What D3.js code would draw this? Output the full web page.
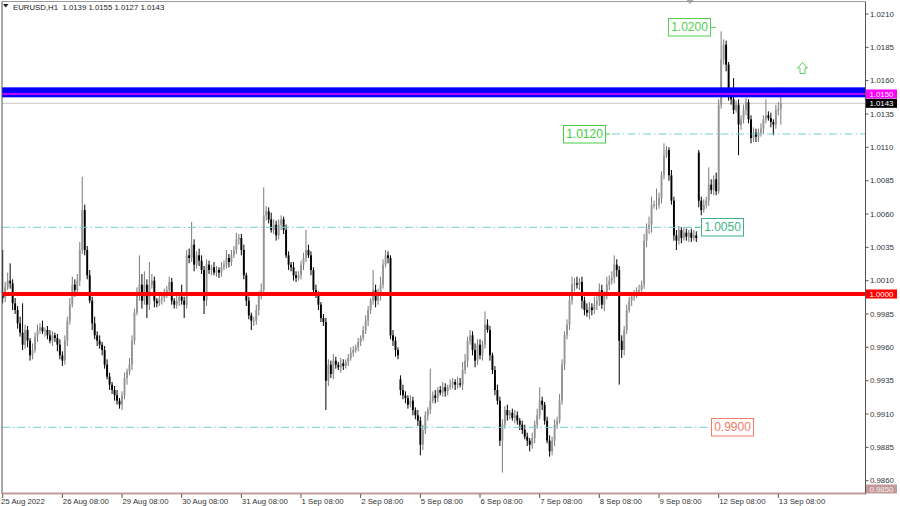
<!DOCTYPE html>
<html><head><meta charset="utf-8">
<script src="https://cdn.jsdelivr.net/npm/d3@7"></script>
<style>
body{margin:0;background:#fff}
svg{display:block}
text{font-family:"Liberation Sans",Arial,sans-serif}
</style>
</head><body>
<svg id="c" width="900" height="506"></svg>
<script>
// ---------- DATA ----------
const symbol = "EURUSD,H1";
const headerOHLC = ["1.0139", "1.0155", "1.0127", "1.0143"];

// hourly closes, in pips relative to 1.0000
const closes = [
  -3,5,10,8,-7,-12,-22,-29,-38,-27,-35,-46,-42,-32,-27,-25,-28,-27,-31,-35,-31,-33,-38,-46,
  -50,-35,-20,-8,7,3,10,33,63,33,14,-5,-22,-31,-35,-38,-42,-53,-62,-68,-72,-76,-80,-83,
  -76,-63,-58,-53,-35,-14,-1,7,-5,7,-8,7,10,-5,-7,-4,-3,-1,3,9,-5,-8,-5,-2,
  -5,-8,29,27,37,22,29,25,18,-5,22,18,20,16,18,16,20,22,27,24,29,33,41,42,
  33,14,-5,-16,-20,-20,-12,-1,3,59,62,56,48,52,44,52,56,48,29,22,20,14,12,14,
  22,27,33,29,18,3,-1,-8,-18,-21,-65,-53,-60,-50,-53,-55,-52,-54,-51,-48,-44,-42,-40,-36,
  -33,-27,-20,-12,-5,3,-5,-1,7,22,29,27,-31,-35,-42,-46,-72,-76,-78,-83,-80,-87,-91,-95,
  -113,-102,-91,-87,-80,-76,-78,-72,-74,-70,-73,-70,-68,-66,-68,-67,-68,-57,-50,-35,-31,-42,-50,-38,
  -46,-38,-23,-27,-46,-57,-72,-80,-110,-98,-87,-91,-89,-93,-91,-95,-98,-102,-107,-110,-113,-108,-98,-91,
  -80,-83,-95,-110,-118,-110,-98,-95,-80,-53,-31,-23,-5,7,8,7,9,-5,-12,-14,-10,-12,-8,-5,
  3,-8,-1,7,10,12,22,18,-35,-42,-27,-12,-5,-2,-1,2,3,7,40,49,52,67,67,67,
  72,89,104,108,89,70,44,40,48,42,46,43,46,42,44,42,
  70,63,67,70,82,78,86,77,142,176,187,172,148,146,138,142,127,131,138,144,131,117,121,118,
  121,124,131,134,132,129,127,138,139,143
];
// upper wick length above body (pips)
const wickUp = [
  34,4,6,13,3,4,3,5,22,4,3,2,5,3,4,3,5,2,3,4,3,2,3,4,
  3,4,3,5,6,4,5,6,25,4,3,4,3,5,3,4,2,3,4,3,2,3,4,2,
  3,4,2,5,4,3,6,22,8,10,4,17,5,3,2,4,3,5,3,4,3,2,4,3,
  9,3,4,5,17,4,3,5,4,3,4,3,2,4,3,2,4,3,6,3,4,3,5,3,
  3,4,2,3,2,3,4,3,5,21,4,3,5,4,3,4,3,2,4,3,2,4,3,3,
  3,4,15,4,3,2,4,3,2,3,3,4,3,5,3,2,4,3,2,3,4,3,2,3,
  2,3,4,3,2,15,4,5,6,4,4,3,2,4,3,2,3,4,3,2,4,3,2,4,
  3,4,3,2,24,3,4,2,3,4,3,2,4,3,2,5,4,6,5,3,4,3,5,4,
  4,3,10,4,3,2,3,4,3,4,3,4,2,3,4,3,2,3,4,3,2,4,3,5,
  10,3,2,3,4,3,4,3,5,4,3,4,5,6,4,5,3,4,3,5,4,3,6,5,
  5,4,3,6,4,5,7,4,3,4,3,4,3,2,4,3,4,3,5,4,6,6,3,12,
  4,3,9,3,2,4,3,4,3,2,4,3,2,3,4,3,
  2,3,4,3,13,4,3,5,4,21,4,3,2,4,16,3,4,3,4,3,2,3,4,3,
  3,4,3,12,3,4,2,4,5,12
];
// lower wick length below body (pips)
const wickDown = [
  4,3,2,4,5,3,4,3,4,3,5,4,3,2,4,3,2,4,3,2,4,3,5,3,
  4,3,4,3,2,5,3,4,3,4,3,2,5,3,4,3,4,3,2,4,3,4,3,3,
  4,3,5,3,4,3,2,4,6,3,10,4,3,5,3,2,4,3,2,4,3,3,3,4,
  3,10,3,4,3,5,3,4,3,10,4,3,4,2,3,4,3,2,3,4,3,2,3,4,
  4,3,4,3,7,4,3,4,3,2,4,3,2,3,4,3,4,3,2,4,3,4,3,2,
  3,4,3,2,4,3,2,4,3,3,22,4,3,4,3,2,4,3,2,3,2,3,2,3,
  3,2,3,4,3,3,5,3,4,3,2,4,3,4,5,3,4,3,4,3,2,4,3,4,
  8,4,3,4,3,2,4,3,2,3,4,3,2,3,4,3,2,4,3,5,3,4,5,3,
  3,4,3,2,4,3,4,3,4,24,3,4,3,2,4,3,4,3,2,4,5,3,4,3,
  3,4,3,2,4,3,4,3,2,3,4,3,4,3,5,3,4,6,4,3,5,4,3,4,
  4,3,5,3,4,3,4,5,33,6,4,3,2,4,3,2,3,4,3,5,4,6,3,4,
  3,4,3,2,4,3,4,7,3,4,2,3,4,3,2,3,
  5,4,2,3,4,3,4,3,2,3,4,5,3,4,3,2,23,4,3,4,3,4,3,4,
  4,3,4,3,2,4,8,3,4,12
];
const firstOpen = -1;                 // pips
const gapOpens = {160: -64, 280: 106}; // Monday opens after weekend gaps (pips)

const timeTicks = [
  [0,"25 Aug 2022"],[24,"26 Aug 08:00"],[48,"29 Aug 08:00"],[72,"30 Aug 08:00"],
  [96,"31 Aug 08:00"],[120,"1 Sep 08:00"],[144,"2 Sep 08:00"],[168,"5 Sep 08:00"],
  [192,"6 Sep 08:00"],[216,"7 Sep 08:00"],[240,"8 Sep 08:00"],[264,"9 Sep 08:00"],
  [288,"12 Sep 08:00"],[312,"13 Sep 08:00"]
];
const priceTicks = [1.0210,1.0185,1.0160,1.0135,1.0110,1.0085,1.0060,1.0035,1.0010,
                    0.9985,0.9960,0.9935,0.9910,0.9885,0.9860];
const bidPrice = 1.0143;
const zoneRange = [1.01475, 1.0155];
const zoneLine = 1.0150;
const keyLevel = 1.0000;
const floorLevel = 0.9850;
const levelNames = ["1.0200","1.0120","1.0050","0.9900"];
const levelValues = [1.0200, 1.0120, 1.0050, 0.9900];

// ---------- CHART ----------
const svg = d3.select("#c");
const L = 2, T = 1.5, R = 865.5, B = 494;
const x = d3.scaleLinear().domain([0, 313]).range([2.7, 2.7 + 2.486 * 313]);
const y = d3.scaleLinear().domain([0.9850, 1.0210]).range([494, 14]);
const pip = v => 1 + v / 10000;

const candles = closes.map((c, i) => {
  const o = i === 0 ? firstOpen : (gapOpens[i] !== undefined ? gapOpens[i] : closes[i - 1]);
  return {i, o: pip(o), c: pip(c),
          h: pip(Math.max(o, c) + wickUp[i]), l: pip(Math.min(o, c) - wickDown[i])};
});

svg.append("defs").append("clipPath").attr("id", "clip")
  .append("rect").attr("x", L).attr("y", T).attr("width", R - L).attr("height", B - T);

const plot = svg.append("g").attr("clip-path", "url(#clip)");

// bid line (behind candles)
plot.append("line").attr("x1", L).attr("x2", R).attr("y1", y(bidPrice)).attr("y2", y(bidPrice))
  .attr("stroke", "#c8c8c8").attr("stroke-width", 1);

// candles
const bull = "#959595", bear = "#000";
const cg = plot.append("g");
cg.selectAll("line.w").data(candles).join("line")
  .attr("x1", d => x(d.i)).attr("x2", d => x(d.i))
  .attr("y1", d => y(d.h)).attr("y2", d => y(d.l))
  .attr("stroke", d => d.c >= d.o ? "#7a7a7a" : bear).attr("stroke-width", 1);
cg.selectAll("rect.b").data(candles).join("rect")
  .attr("x", d => x(d.i) - 0.95).attr("width", 1.9)
  .attr("y", d => y(Math.max(d.o, d.c)))
  .attr("height", d => Math.max(1, Math.abs(y(d.o) - y(d.c))))
  .attr("fill", d => d.c >= d.o ? bull : bear);

// dash-dot levels
const dashCol = "#74d0d0";
const dd = "8,3,1.5,3";
plot.append("line").attr("x1", 612).attr("x2", R).attr("y1", y(levelValues[1])).attr("y2", y(levelValues[1]))
  .attr("stroke", dashCol).attr("stroke-dasharray", dd);
plot.append("line").attr("x1", L).attr("x2", 696).attr("y1", y(levelValues[2])).attr("y2", y(levelValues[2]))
  .attr("stroke", dashCol).attr("stroke-dasharray", dd);
plot.append("line").attr("x1", L).attr("x2", 708).attr("y1", y(levelValues[3])).attr("y2", y(levelValues[3]))
  .attr("stroke", dashCol).attr("stroke-dasharray", dd);

// key level
plot.append("line").attr("x1", L).attr("x2", R).attr("y1", y(keyLevel)).attr("y2", y(keyLevel))
  .attr("stroke", "#ff0000").attr("stroke-width", 4);

// blue zone + magenta line
plot.append("rect").attr("x", L).attr("width", R - L)
  .attr("y", y(zoneRange[1])).attr("height", y(zoneRange[0]) - y(zoneRange[1]))
  .attr("fill", "#0000ff");
plot.append("line").attr("x1", L).attr("x2", R).attr("y1", y(zoneLine)).attr("y2", y(zoneLine))
  .attr("stroke", "#ff00ff").attr("stroke-width", 1.3);

// level label boxes
const boxes = [
  {k: 0, x0: 668.5, col: "#52d052", dash: [710.5, 716]},
  {k: 1, x0: 563.5, col: "#44cc44", dash: [605.5, 610]},
  {k: 2, x0: 701.5, col: "#3db586", dash: [695, 700.5]},
  {k: 3, x0: 711.5, col: "#f07a66", dash: null}
];
boxes.forEach(b => {
  const yy = y(levelValues[b.k]);
  const g = svg.append("g");
  g.append("rect").attr("x", b.x0).attr("y", Math.round(yy) - 8.5).attr("width", 42).attr("height", 17.5)
    .attr("fill", "#fff").attr("stroke", b.col).attr("stroke-width", 1);
  g.append("text").attr("x", b.x0 + 21).attr("y", Math.round(yy) + 4.2).attr("text-anchor", "middle")
    .attr("font-size", 12).attr("fill", b.col).text(levelNames[b.k]);
  if (b.dash) g.append("line").attr("x1", b.dash[0]).attr("x2", b.dash[1]).attr("y1", yy).attr("y2", yy)
    .attr("stroke", b.col).attr("stroke-width", 1);
});

// up arrow
svg.append("path").attr("d", "M802.5,62.5 L807.5,68 L805,68 L805,73.5 L800,73.5 L800,68 L797.5,68 Z")
  .attr("fill", "#fff").attr("stroke", "#5ccf5c").attr("stroke-width", 1);

// shift marker
svg.append("path").attr("d", "M686.5,0 L693.5,0 L690,4 Z").attr("fill", "#a8a8a8");

// frame
svg.append("line").attr("x1", L).attr("x2", R).attr("y1", T).attr("y2", T).attr("stroke", "#9a9a9a");
svg.append("line").attr("x1", L).attr("x2", L).attr("y1", T).attr("y2", B).attr("stroke", "#555");
svg.append("line").attr("x1", R).attr("x2", R).attr("y1", T).attr("y2", B + 0.5).attr("stroke", "#555");
svg.append("line").attr("x1", L).attr("x2", R).attr("y1", y(floorLevel) - 0.5).attr("y2", y(floorLevel) - 0.5)
  .attr("stroke", "#c39a9a").attr("stroke-width", 2);

// right axis
const ax = svg.append("g").attr("font-size", 7.8).attr("fill", "#333");
priceTicks.forEach(p => {
  ax.append("line").attr("x1", R).attr("x2", R + 3).attr("y1", y(p)).attr("y2", y(p)).attr("stroke", "#555");
  ax.append("text").attr("x", 870).attr("y", y(p) + 2.8).text(p.toFixed(4));
});
// price tags
const tags = [
  {v: zoneLine, bg: "#ff00ff", fg: "#fff"},
  {v: bidPrice, bg: "#000", fg: "#fff"},
  {v: keyLevel, bg: "#ff0000", fg: "#fff"},
  {v: floorLevel, bg: "#c39a9a", fg: "#f4eaea"}
];
tags.forEach(t => {
  const yy = t.v === floorLevel ? y(t.v) - 5 : y(t.v);
  svg.append("rect").attr("x", 866).attr("y", yy - 4.5).attr("width", 31).attr("height", 9).attr("fill", t.bg);
  svg.append("text").attr("x", 869.5).attr("y", yy + 2.8).attr("font-size", 7.8).attr("fill", t.fg)
    .text(t.v.toFixed(4));
});

// bottom axis
const bx = svg.append("g").attr("font-size", 7.8).attr("fill", "#333");
timeTicks.forEach(([i, lab]) => {
  bx.append("line").attr("x1", x(i)).attr("x2", x(i)).attr("y1", B).attr("y2", B + 4).attr("stroke", "#555");
  bx.append("text").attr("x", i === 0 ? 1 : x(i) + 0.5).attr("y", 503.5).text(lab);
});

// header
svg.append("path").attr("d", "M3,4 L8.5,4 L5.75,7.5 Z").attr("fill", "#222");
svg.append("text").attr("x", 13).attr("y", 9.5).attr("font-size", 7.8).attr("fill", "#222")
  .attr("xml:space", "preserve")
  .text(symbol + "  " + headerOHLC.join(" "));
</script>
</body></html>
